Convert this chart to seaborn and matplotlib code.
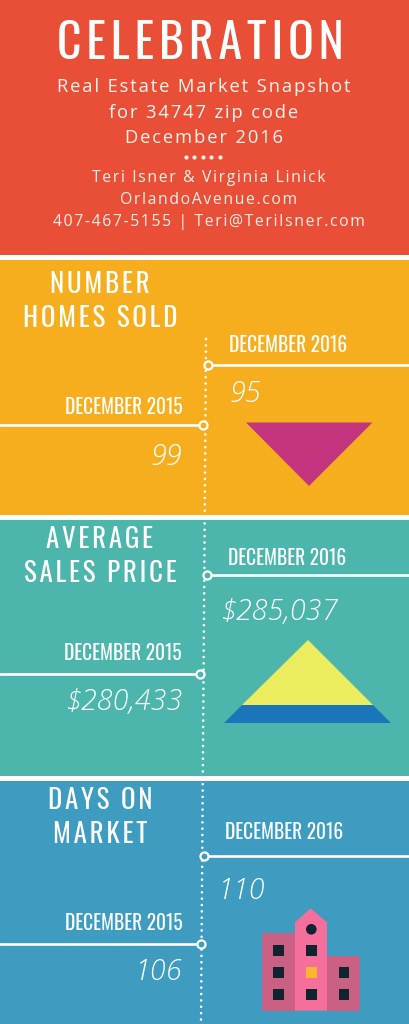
import matplotlib
matplotlib.use('Agg')
import matplotlib.pyplot as plt
from matplotlib.patches import Rectangle, Polygon, Circle
import pandas as pd
import seaborn as sns

# ------------------------- chart content --------------------------
title = 'CELEBRATION'
subtitle_lines = ['Real Estate Market Snapshot', 'for 34747 zip code', 'December 2016']
contact_lines = ['Teri Isner & Virginia Linick', 'OrlandoAvenue.com', '407-467-5155 | Teri@TeriIsner.com']

headings = [['NUMBER', 'HOMES SOLD'], ['AVERAGE', 'SALES PRICE'], ['DAYS ON', 'MARKET']]
label_2015 = 'DECEMBER 2015'
label_2016 = 'DECEMBER 2016'
values_2015 = ['99', '$280,433', '106']
values_2016 = ['95', '$285,037', '110']

# ------------------------- layout (pixels) -------------------------
band_colors = ['#E84F36', '#F6AE1E', '#4DB6AC', '#3D9CBF']
band_edges = [(0, 255), (260, 515), (520, 776), (781, 1024)]

title_font = ['Oswald', 'Liberation Sans Narrow', 'Roboto', 'DejaVu Sans']
body_font = ['Open Sans', 'DejaVu Sans']

sub_base = [92, 118, 143]
contact_base = [182, 204, 226]
heading_base = [(293, 327), (548, 582), (809, 843)]
heading_x = [100, 100, 100]

dot_2016 = [(208, 364.5), (207, 575.3), (204, 856)]
dot_2015 = [(203, 425.3), (200.5, 674.3), (201, 943.5)]
label16_pos = [(288.5, 352), (287.5, 565), (284.5, 839)]
label15_pos = [(124, 414), (123, 660), (124, 930)]
value16_pos = [(229, 402), (220.5, 620), (217, 899)]
value15_pos = [(182, 465), (182.5, 710), (182, 980)]


def spaced(text, gap='\u200a'):
    # letter spacing, hair spaces between the letters
    return gap.join(text)


sns.set_theme(style='white')
plt.rcParams['font.family'] = body_font

fig, ax = plt.subplots(figsize=(4.1, 10.24), dpi=100)
fig.subplots_adjust(0, 0, 1, 1)
ax.set_xlim(0, 410)
ax.set_ylim(1024, 0)
ax.axis('off')
fig.patch.set_facecolor('white')

for (top, bottom), color in zip(band_edges, band_colors):
    ax.axhspan(top, bottom, color=color, lw=0, zorder=0)

# ---------------- header ----------------
ax.text(200.5, 59, spaced(title), color='white', fontsize=34.4, family=title_font,
        ha='center', va='baseline')
for line, y in zip(subtitle_lines, sub_base):
    ax.text(204, y, spaced(line), color='#FFF4F0', fontsize=13.2, ha='center', va='baseline')
for line, y in zip(contact_lines, contact_base):
    ax.text(209, y, spaced(line), color='#FFEDE8', fontsize=11.3, ha='center', va='baseline')
sns.scatterplot(x=[186, 194.5, 203, 211.5, 220], y=[157] * 5, color='#FFF4F0', s=9,
                linewidth=0, ax=ax, zorder=3)

# ---------------- timeline ----------------
sns.lineplot(x=[206, 201], y=[339, 1022], color='white', lw=1.9, sort=False, estimator=None,
             linestyle=(0, (0.01, 2.4)), dash_capstyle='round', ax=ax, zorder=2)

for i in range(3):
    x16, y16 = dot_2016[i]
    x15, y15 = dot_2015[i]
    line_df = pd.DataFrame({'x': [x16, 410], 'y': [y16, y16]})
    sns.lineplot(data=line_df, x='x', y='y', color='white', lw=1.9, ax=ax, zorder=3)
    line_df = pd.DataFrame({'x': [0, x15], 'y': [y15, y15]})
    sns.lineplot(data=line_df, x='x', y='y', color='white', lw=1.9, ax=ax, zorder=3)
    sns.scatterplot(x=[x16, x15], y=[y16, y15], s=34, color=band_colors[i + 1],
                    edgecolor='white', linewidth=1.6, ax=ax, zorder=4)

    for line, y in zip(headings[i], heading_base[i]):
        ax.text(heading_x[i], y, spaced(line), color='white', fontsize=19.4, family=title_font,
                ha='center', va='baseline')

    ax.text(*label16_pos[i], label_2016, color='white', fontsize=14, family=title_font,
            ha='center', va='baseline')
    ax.text(*label15_pos[i], label_2015, color='white', fontsize=14, family=title_font,
            ha='center', va='baseline')
    ax.text(*value16_pos[i], values_2016[i], color='white', fontsize=20.7, style='italic',
            weight='light', ha='left', va='baseline')
    ax.text(*value15_pos[i], values_2015[i], color='white', fontsize=20.7, style='italic',
            weight='light', ha='right', va='baseline')

# ---------------- icons ----------------
ax.add_patch(Polygon([(246, 422.5), (372.5, 422.5), (309, 486)], fc='#C5357F', lw=0, zorder=2))
ax.add_patch(Polygon([(308, 640), (242, 705), (373, 705)], fc='#ECEC5F', lw=0, zorder=2))
ax.add_patch(Polygon([(242, 705), (373, 705), (391, 723), (224, 723)], fc='#1B75BB', lw=0, zorder=2))

ax.add_patch(Rectangle((261.7, 933.3), 33.3, 77.4, fc='#CB6085', lw=0, zorder=2))
ax.add_patch(Rectangle((327, 956), 32.7, 54.7, fc='#CB6085', lw=0, zorder=2))
ax.add_patch(Polygon([(295, 1010.7), (295, 922.3), (310.7, 908.3), (327, 922.3), (327, 1010.7)],
                     fc='#F46F9B', lw=0, zorder=2))
ax.add_patch(Circle((311.3, 929.3), 5.3, fc='#10242F', lw=0, zorder=3))
window_cols = [(273, [945.3, 967, 989]), (306, [945.3, 967, 989]), (338.7, [967, 989])]
for wx, rows in window_cols:
    for wy in rows:
        wc = '#FDB52F' if (wx == 306 and wy == 967) else '#10242F'
        ax.add_patch(Rectangle((wx, wy), 10.7, 10.7, fc=wc, lw=0, zorder=3))

fig.savefig('out.png', dpi=100)
